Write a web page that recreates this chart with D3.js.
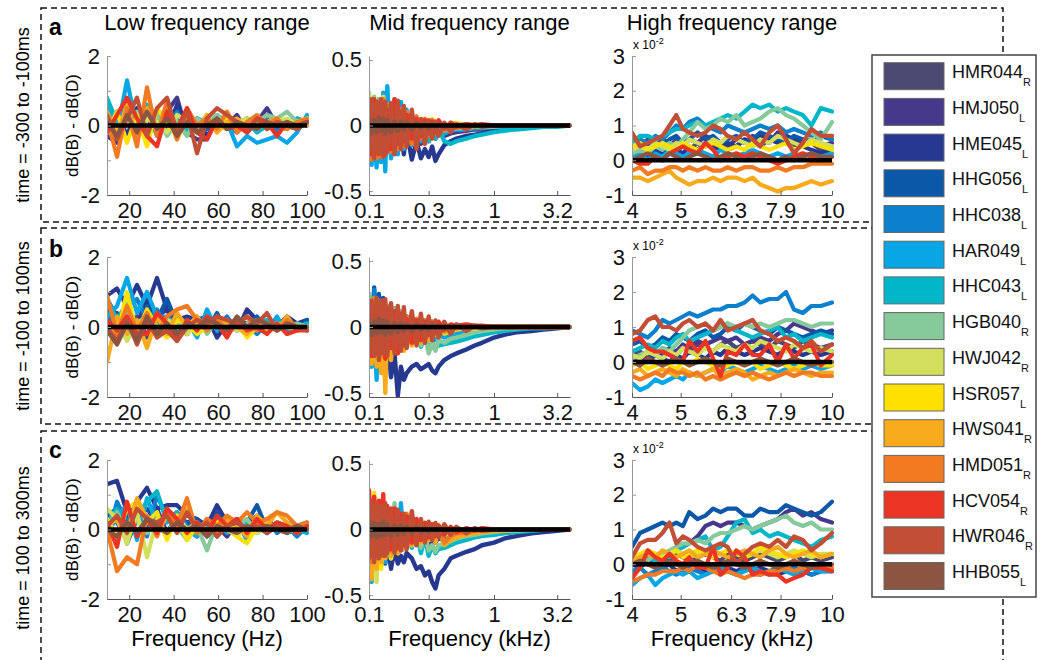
<!DOCTYPE html>
<html lang="en">
  <head>
    <meta charset="UTF-8" />
    <title>dB(B) - dB(D) by frequency range</title>
    <script src="https://cdnjs.cloudflare.com/ajax/libs/d3/7.8.5/d3.min.js"></script>
    <style>
      body { margin: 0; background: #fff; }
      svg { display: block; font-family: "Liberation Sans", Arial, Helvetica, sans-serif; }
    </style>
  </head>
  <body>
    <div id="chart"></div>
    <script>
      // Subjects in legend order, with ear side (shown as subscript)
      const subjects = ["HMR044", "HMJ050", "HME045", "HHG056", "HHC038", "HAR049", "HHC043", "HGB040",
        "HWJ042", "HSR057", "HWS041", "HMD051", "HCV054", "HWR046", "HHB055"];
      const sides = ["R", "L", "L", "L", "L", "L", "L", "R", "R", "L", "R", "R", "R", "R", "L"];
      const colors = ["#4b4a72", "#46398c", "#26388f", "#0b58a8", "#0c80cc", "#09a6e6", "#00b6c9", "#86c99b",
        "#d3df5c", "#ffe100", "#f8aa1d", "#f27b21", "#ec3424", "#c14e35", "#8b5542"];

      const rowTimes = ["time = -300 to -100ms", "time = -100 to 100ms", "time = 100 to 300ms"];
      const rowLetters = ["a", "b", "c"];

      // frequency grids
      const lowFreq = [10, 14.5, 19, 23.5, 28, 32.5, 37, 41.5, 46, 50.5, 55, 59.5, 64, 68.5, 73, 77.5, 82, 86.5, 91, 95.5, 100]; // Hz
      const midFreq = [0.10, 0.105, 0.11, 0.115, 0.12, 0.125, 0.13, 0.135, 0.14, 0.15, 0.16, 0.17, 0.18, 0.19, 0.20,
        0.22, 0.24, 0.26, 0.28, 0.30, 0.32, 0.34, 0.36, 0.40, 0.45, 0.5, 0.6, 0.7, 0.8, 1.0, 1.2, 1.5, 2.0, 2.5, 3.2, 4.0]; // kHz
      const highFreq = [4.0, 4.15, 4.3, 4.45, 4.6, 4.75, 4.9, 5.05, 5.2, 5.4, 5.6, 5.8, 6.0, 6.2, 6.45, 6.7, 6.95,
        7.2, 7.5, 7.8, 8.1, 8.4, 8.75, 9.1, 9.5, 10.0]; // kHz

      // tick values
      const lowTicks = [20, 40, 60, 80, 100];
      const midTicks = [0.1, 0.3, 1, 3.2];
      const highTicks = [4, 5, 6.3, 7.9, 10];

      // values, one string per subject (legend order)
      // low: tenths of dB
      const lowA = [
        "2 -3 4 -2 3 -1 2 -3 1 -1 2 0 1 -1 1 0 1 -1 1 0 1",
        "-3 -5 3 -2 5 -1 4 8 -2 -4 -4 2 0 3 -2 1 5 0 -1 2 1",
        "-2 4 -3 5 -1 3 -2 6 -1 2 -3 1 3 -1 2 -1 1 0 -1 1 0",
        "3 -2 4 -3 2 -1 3 -2 0 2 -1 1 -1 1 0 2 -1 1 0 -1 1",
        "4 -1 5 -2 3 2 -2 4 -1 1 2 -1 0 -2 1 -1 2 -2 1 0 2",
        "6 -2 13 -1 5 -3 3 0 -2 1 0 3 1 -6 -3 -5 -4 -3 -5 -2 3",
        "8 1 4 -2 6 2 -1 3 -2 2 1 0 2 -1 1 -2 0 1 -1 2 1",
        "1 -3 2 4 -1 3 -3 1 -3 2 0 3 1 -1 2 1 3 2 4 1 2",
        "3 -2 5 -4 2 1 -2 3 1 -2 2 0 -1 1 2 -1 1 1 2 0 1",
        "-2 4 -5 3 -6 5 1 -3 4 -2 3 -2 2 -1 1 2 0 1 -1 1 2",
        "4 -3 6 -4 5 -2 3 -4 2 -1 3 -2 1 2 -1 0 1 2 -1 1 0",
        "2 -9 5 -6 11 -3 7 -4 5 0 2 -1 4 -2 1 3 0 2 -1 1 2",
        "-2 3 8 2 -3 -6 4 -1 5 -2 -4 2 -1 0 -2 2 1 -3 1 -1 1",
        "3 -4 2 8 -3 5 8 -2 4 -8 2 5 3 1 -1 2 -1 1 0 -1 1",
        "1 -3 3 -2 4 -1 2 -3 1 -2 0 2 -1 1 0 -1 1 0 1 0 1"
      ];
      const lowB = [
        "2 4 -2 3 -3 2 -1 1 -2 2 0 1 -1 2 -1 1 0 1 -1 0 1",
        "4 2 6 1 8 3 5 -1 2 -2 1 -1 0 2 1 -1 1 0 -1 1 0",
        "9 11 6 12 6 14 5 2 3 2 3 -3 1 -1 5 2 -1 0 3 1 2",
        "8 3 5 -2 6 2 8 1 -2 3 -1 4 -2 1 0 3 -1 2 0 -1 2",
        "5 -2 6 8 2 5 -1 3 1 -1 2 0 3 -1 1 -2 1 2 -1 0 1",
        "3 6 14 4 10 3 3 0 2 -3 5 -1 2 0 -2 1 -1 3 -2 1 0",
        "8 2 7 -1 4 1 -2 3 0 2 -1 2 0 1 -1 1 2 -1 1 0 1",
        "2 -3 4 -1 3 -2 2 1 -1 3 -2 2 0 -1 1 2 -1 1 0 1 0",
        "-2 2 -4 1 3 -3 2 0 -2 1 -1 2 1 -1 0 2 -1 1 0 -1 0",
        "1 -3 10 -2 5 0 -3 2 1 -2 0 2 -1 1 -3 0 1 -1 2 -1 0",
        "-10 3 -2 2 -6 3 -2 4 0 3 -1 2 1 0 -2 1 0 -1 3 -1 0",
        "9 -2 6 -1 4 -2 3 5 6 2 -1 3 -2 1 3 -1 1 -1 2 0 -1",
        "2 -1 3 -2 -2 4 1 -4 2 -1 3 1 -3 2 -1 0 -2 1 -2 -1 -1",
        "0 -4 2 -5 2 -3 -1 -4 0 2 1 3 2 1 3 1 4 -1 1 0 -1",
        "-1 -5 1 -4 3 -2 1 -2 1 0 2 1 -1 3 0 2 1 -1 1 0 0"
      ];
      const lowC = [
        "3 -2 4 -1 3 2 -1 2 0 -2 1 3 -1 1 0 2 -1 1 0 1 0",
        "5 2 -3 4 1 6 -1 3 2 -1 3 1 -2 2 0 1 -1 2 1 0 1",
        "13 14 5 8 12 6 7 7 4 3 1 7 2 3 1 4 2 1 0 -1 1",
        "4 6 -4 3 6 2 -1 4 2 3 -2 5 1 -1 2 7 0 2 -1 1 2",
        "-3 8 2 6 -2 10 3 5 1 -1 2 -2 2 0 -1 1 3 -1 1 -2 1",
        "-2 4 7 -3 9 2 -2 5 0 -2 1 3 -1 2 -3 1 0 2 -1 0 -1",
        "2 6 -1 4 8 11 2 5 -1 2 0 3 1 -1 2 1 -1 2 1 0 1",
        "1 5 -2 3 -1 2 4 1 -3 1 -6 2 0 1 3 -1 1 0 2 1 0",
        "6 3 -4 5 -8 3 -2 4 0 2 -1 1 0 -2 1 -1 2 0 1 -1 1",
        "3 -2 6 8 2 5 -3 4 -3 1 -1 2 3 -2 -4 1 0 2 -1 1 1",
        "1 3 -1 9 3 -1 4 2 6 -1 2 -1 3 1 -2 4 1 5 2 -1 1",
        "0 -12 -8 -10 4 -2 6 1 9 -1 3 1 4 2 5 2 3 5 4 1 2",
        "2 -5 8 -2 3 -1 6 3 -1 2 -1 4 1 3 -1 3 0 2 1 -1 1",
        "1 4 -1 6 3 2 4 -1 5 0 2 -2 1 2 0 1 -1 1 0 1 0",
        "0 -2 2 -1 3 1 -1 2 0 1 -2 1 0 -1 1 0 1 0 -1 1 0"
      ];

      // mid: hundredths of dB
      const midA = [
        "10 -15 12 -18 8 -14 10 -12 6 -10 8 -9 5 -8 4 -6 3 -7 2 -5 1 -4 0 -3 -2 -1 -2 -1 -1 -1 0 0 0 0 0 0",
        "8 -20 14 -22 10 -18 12 -16 8 -14 6 -12 5 -10 2 -12 0 -14 -2 -12 -6 -10 -4 -8 -6 -5 -4 -3 -3 -2 -2 -1 -1 0 0 0",
        "5 -22 10 -25 6 -20 8 -22 4 -20 3 -18 0 -22 -4 -26 -12 -25 -18 -24 -16 -27 -22 -15 -12 -10 -8 -7 -6 -4 -3 -2 -1 -1 0 0",
        "12 -18 15 -20 10 -16 14 -18 8 -15 10 -12 6 -10 5 -8 3 -10 2 -8 0 -6 -2 -5 -4 -3 -3 -2 -2 -1 -1 -1 0 0 0 0",
        "15 -25 20 -28 18 -22 16 -20 12 -18 14 -15 8 -12 6 -10 4 -8 3 -6 2 -5 1 -4 -3 -2 -2 -2 -1 -1 -1 0 0 0 0 0",
        "22 -30 18 -32 20 -28 25 -35 30 -25 20 -22 18 -18 12 -15 6 -12 4 -10 3 -8 2 -6 -4 -3 -3 -2 -2 -1 -1 -1 0 0 0 0",
        "18 -20 15 -22 12 -18 14 -16 10 -14 12 -10 8 -12 6 -8 5 -10 3 -12 2 -10 -2 -12 -14 -12 -10 -8 -7 -5 -4 -3 -2 -1 -1 0",
        "25 -15 22 -18 20 -12 18 -14 15 -10 16 -8 12 -10 8 -6 5 -8 4 -6 3 -5 2 -4 -3 -2 -2 -1 -1 -1 0 0 0 0 0 0",
        "24 -18 20 -15 18 -20 22 -12 16 -14 14 -10 12 -8 10 -6 6 -5 4 -4 3 -3 2 -2 -2 -1 -1 -1 0 0 0 0 0 0 0 0",
        "15 -22 18 -20 14 -18 16 -15 12 -16 10 -12 8 -10 6 -8 5 -6 4 -5 5 -3 3 -2 1 2 0 1 0 0 0 0 0 0 0 0",
        "18 -25 20 -24 16 -22 18 -20 14 -18 12 -15 10 -12 8 -10 6 -8 5 -6 4 -5 3 -3 2 1 1 0 0 0 0 0 0 0 0 0",
        "20 -26 18 -25 19 -24 20 -22 16 -20 15 -18 12 -16 10 -14 7 -10 5 -8 4 -6 3 -4 2 -2 1 -1 0 0 0 0 0 0 0 0",
        "15 -22 20 -18 14 -20 16 -22 12 -18 20 -14 10 -12 8 -10 5 -8 4 -6 3 -5 4 -2 2 -1 1 0 1 0 0 0 0 0 0 0",
        "-20 20 -25 18 -22 20 -24 18 -20 17 -22 19 -18 15 -16 12 -18 5 -14 4 -10 3 -8 2 -5 1 -3 1 -1 0 0 0 0 0 0 0",
        "5 -6 4 -5 6 -4 5 -6 4 -5 3 -4 3 -3 2 -3 2 -2 1 -2 1 -1 1 -1 0 0 0 0 0 0 0 0 0 0 0 0"
      ];
      const midB = [
        "12 -18 10 -20 8 -15 10 -14 6 -12 8 -10 5 -8 4 -7 3 -6 2 -5 1 -4 0 -3 -3 -2 -2 -1 -1 -1 0 0 0 0 0 0",
        "10 -22 14 -25 12 -20 10 -18 8 -16 6 -14 4 -12 2 -10 0 -12 -4 -10 -6 -8 -5 -6 -5 -4 -3 -3 -2 -2 -1 -1 0 0 0 0",
        "5 -20 8 -24 6 -28 4 -30 -5 -38 -20 -52 -30 -40 -35 -30 -28 -32 -30 -28 -33 -35 -30 -25 -22 -20 -17 -14 -12 -8 -6 -4 -3 -2 -1 0",
        "5 -25 30 -22 25 -20 22 -18 16 -15 14 -12 10 -10 8 -8 6 -6 4 -5 3 -4 2 -3 -2 -2 -1 -1 -1 0 0 0 0 0 0 0",
        "25 -30 28 -26 20 -24 18 -20 15 -18 12 -15 10 -12 8 -10 6 -8 5 -6 4 -5 3 -4 -3 -2 -2 -1 -1 -1 0 0 0 0 0 0",
        "18 -30 15 -40 12 -25 15 -22 10 -20 8 -18 6 -15 5 -12 4 -10 2 -8 0 -10 -6 -8 -6 -5 -4 -3 -2 -2 -1 -1 0 0 0 0",
        "15 -20 12 -22 10 -18 12 -16 8 -14 6 -12 4 -10 2 -12 -2 -15 -8 -16 -12 -15 -14 -13 -12 -11 -9 -7 -6 -4 -3 -2 -1 -1 0 0",
        "25 -15 22 -18 20 -14 18 -12 16 -10 14 -10 12 -8 8 -10 4 -14 -6 -20 -12 -18 -10 -12 -9 -8 -6 -4 -3 -2 -1 -1 0 0 0 0",
        "20 -18 18 -20 16 -15 14 -14 12 -12 10 -10 8 -9 6 -8 5 -7 4 -5 3 -4 2 -3 -2 -1 -1 -1 0 0 0 0 0 0 0 0",
        "15 -25 12 -22 10 -28 8 -20 12 -18 6 -16 8 -14 4 -12 6 -10 3 -8 4 -6 2 -5 -3 -2 -1 -1 0 0 0 0 0 0 0 0",
        "18 -28 15 -30 12 -35 10 -50 8 -25 12 -20 6 -18 5 -14 4 -12 3 -10 2 -6 2 -4 -2 -1 0 0 0 0 0 0 0 0 0 0",
        "20 -20 22 -18 18 -22 20 -15 15 -16 12 -14 10 -12 8 -10 6 -8 5 -6 4 -5 3 -3 1 -1 0 0 0 0 0 0 0 0 0 0",
        "18 -22 15 -20 16 -18 20 -24 14 -16 12 -20 10 -14 6 -12 5 -10 4 -6 3 -4 4 -2 2 1 2 1 1 0 0 0 0 0 0 0",
        "-20 20 -22 22 -25 20 -20 21 -22 18 -20 16 -18 15 -16 12 -14 10 -12 8 -10 5 -8 4 -5 2 -3 1 -1 0 0 0 0 0 0 0",
        "5 -6 4 -5 6 -4 5 -6 4 -5 3 -4 3 -3 2 -3 2 -2 1 -2 1 -1 1 -1 0 0 0 0 0 0 0 0 0 0 0 0"
      ];
      const midC = [
        "10 -15 12 -18 8 -16 10 -14 6 -12 8 -10 5 -8 4 -6 3 -8 2 -6 0 -5 -2 -4 -3 -3 -2 -2 -1 -1 0 0 0 0 0 0",
        "12 -20 10 -22 8 -20 10 -18 6 -16 5 -14 3 -12 2 -10 0 -14 -4 -12 -8 -10 -6 -8 -6 -5 -4 -3 -3 -2 -1 -1 0 0 0 0",
        "8 -20 6 -24 5 -22 4 -26 -8 -30 -15 -26 -20 -25 -18 -22 -30 -28 -35 -32 -40 -45 -35 -30 -22 -20 -17 -15 -12 -10 -7 -5 -3 -2 -1 0",
        "15 -22 18 -20 15 -18 12 -16 10 -14 8 -12 6 -10 5 -8 4 -10 2 -8 0 -8 -4 -10 -9 -8 -7 -5 -4 -3 -2 -1 -1 0 0 0",
        "20 -30 18 -26 16 -24 15 -22 12 -20 10 -18 8 -15 6 -12 5 -10 3 -8 2 -6 1 -6 -5 -4 -3 -2 -2 -1 -1 0 0 0 0 0",
        "18 -40 15 -32 12 -28 14 -25 10 -22 8 -18 20 -15 6 -12 4 -10 3 -8 2 -6 1 -4 -3 -2 -2 -1 -1 -1 0 0 0 0 0 0",
        "15 -20 12 -22 10 -20 12 -18 8 -16 6 -15 4 -12 3 -14 -2 -18 -6 -20 -12 -18 -15 -14 -12 -10 -8 -6 -5 -4 -3 -2 -1 0 0 0",
        "20 -18 18 -20 15 -16 16 -14 12 -12 20 -10 10 -10 8 -10 6 -14 -4 -16 -12 -17 -12 -11 -9 -7 -5 -4 -3 -2 -1 -1 0 0 0 0",
        "25 -30 20 -40 18 -25 15 -20 12 -22 10 -18 8 -15 6 -12 4 -10 3 -8 2 -6 1 -4 -3 -2 -1 -1 0 0 0 0 0 0 0 0",
        "22 -25 28 -22 20 -30 18 -20 15 -22 12 -18 10 -14 8 -12 6 -10 5 -8 4 -5 3 -3 -2 -1 -1 0 0 0 0 0 0 0 0 0",
        "20 -38 18 -30 15 -25 16 -22 12 -20 10 -18 8 -15 10 -12 6 -10 5 -8 3 -10 2 -12 -8 -6 -4 -3 -2 -1 -1 0 0 0 0 0",
        "22 -25 20 -22 18 -20 22 -18 15 -16 12 -15 10 -12 12 -10 6 -8 5 -6 4 -5 3 -10 -5 -3 -2 -1 -1 0 0 0 0 0 0 0",
        "30 -20 25 -18 22 -16 27 -20 18 -15 16 -14 12 -12 10 -10 8 -8 5 -6 4 -5 3 -4 2 -2 1 -1 1 0 0 0 0 0 0 0",
        "-22 22 -25 20 -22 18 -20 20 -18 16 -18 15 -16 12 -15 14 -12 8 -10 6 -8 5 -6 4 -4 2 -3 1 -1 0 0 0 0 0 0 0",
        "6 -5 5 -6 4 -5 6 -4 4 -5 3 -4 3 -3 2 -3 2 -2 1 -2 1 -1 1 -1 0 0 0 0 0 0 0 0 0 0 0 0"
      ];

      // high: tenths of 10^-2 dB
      const highA = [
        "3 4 2 5 3 4 6 4 3 5 4 6 5 3 4 6 5 4 6 7 5 4 6 5 3 4",
        "4 3 5 4 6 5 3 4 6 5 7 6 5 4 6 5 7 6 5 8 7 6 5 6 4 5",
        "2 3 1 3 2 4 3 2 4 3 5 4 3 5 4 6 5 7 6 5 7 6 4 3 2 3",
        "5 4 6 5 4 6 7 5 6 8 6 7 5 6 7 5 6 8 7 6 5 7 6 5 7 6",
        "5 6 5 7 6 8 10 9 11 12 10 9 8 10 9 8 9 10 9 10 8 9 8 7 8 6",
        "1 2 0 2 1 3 2 1 2 3 2 1 3 2 1 2 3 2 1 2 1 2 1 2 1 2",
        "5 7 7 6 7 8 9 9 10 11 10 11 12 13 12 14 16 15 16 14 15 14 13 10 15 14",
        "2 3 2 4 3 5 4 6 8 11 9 10 12 11 13 10 11 12 14 15 13 12 10 8 6 11",
        "3 4 3 5 4 3 5 4 6 5 4 6 5 7 6 5 4 6 5 7 6 5 4 6 5 4",
        "4 5 3 4 5 4 3 5 4 3 4 5 4 3 4 3 5 4 3 4 5 3 4 5 4 3",
        "-5 -5 -6 -5 -4 -3 -5 -6 -7 -6 -6 -5 -6 -5 -5 -6 -5 -7 -8 -9 -8 -8 -7 -6 -7 -6",
        "-3 -2 -4 -3 -3 -2 -2 -3 -2 -3 -2 -3 -3 -2 -3 -2 -2 -3 -3 -2 -3 -2 -2 -1 -1 -1",
        "0 -1 -1 1 0 2 3 4 3 2 5 3 0 1 2 1 2 1 0 -1 0 1 2 1 0 1",
        "8 4 5 6 7 10 13 9 8 7 8 10 9 7 6 8 6 4 8 10 6 2 5 9 7 7",
        "0 1 2 1 0 2 1 0 1 2 1 0 1 2 1 0 1 2 1 0 1 0 1 2 1 1"
      ];
      const highB = [
        "2 3 1 2 4 3 2 4 3 5 4 3 5 6 4 5 6 5 4 6 5 4 6 5 4 5",
        "1 2 1 3 2 4 3 5 4 6 5 6 7 6 7 5 6 7 6 8 9 11 10 9 8 9",
        "0 1 0 2 1 0 2 1 3 2 1 3 2 4 3 2 3 4 3 2 4 3 2 3 2 3",
        "5 6 4 5 7 6 8 7 6 8 9 7 8 10 9 11 10 9 8 10 9 8 7 8 9 8",
        "9 8 7 9 12 11 12 13 14 13 14 15 15 16 16 17 19 17 18 18 20 15 14 16 16 17",
        "-6 -8 -7 -5 -6 -5 -4 -5 -3 -4 -3 -2 -3 -1 -2 -3 -2 -1 -2 -3 -2 -1 -2 -1 -2 -1",
        "3 4 5 4 6 5 7 8 6 7 8 9 10 11 9 8 7 8 9 10 7 8 6 7 8 7",
        "1 2 3 2 4 3 5 7 9 10 11 9 10 11 10 11 10 11 10 11 12 12 11 10 11 11",
        "2 1 3 2 1 3 2 4 3 2 4 3 5 4 3 5 4 6 5 4 3 5 4 3 4 3",
        "-1 0 -2 -1 0 -1 -2 0 -1 1 0 -1 -2 -1 0 -1 0 -2 -1 0 -1 -2 -1 0 -1 -1",
        "-3 -2 -4 -3 -2 -3 -4 -2 -3 -4 -3 -2 -4 -3 -2 -3 -5 -4 -3 -4 -3 -2 -3 -4 -3 -3",
        "-4 -5 -4 -3 -4 -2 -3 -3 -4 -3 -5 -4 -5 -4 -3 -4 -3 -4 -5 -4 -3 -4 -3 -3 -4 -4",
        "6 7 4 3 3 2 1 0 6 3 6 1 -4 3 2 5 2 2 5 0 5 1 4 5 -1 2",
        "8 9 12 13 10 10 9 11 12 10 11 9 12 9 10 11 12 9 8 6 7 6 4 6 3 5",
        "0 -1 1 0 -1 0 1 0 -1 0 1 0 -1 1 0 -1 0 1 0 -1 0 1 0 -1 0 0"
      ];
      const highC = [
        "1 2 0 1 2 1 3 2 1 2 3 2 1 3 2 1 2 3 2 1 2 3 1 2 1 2",
        "2 1 3 2 3 2 4 5 6 8 11 12 11 12 12 11 10 11 12 13 15 16 14 15 13 12",
        "0 -1 1 0 -1 0 -2 -1 0 -1 -2 -1 0 -1 -2 -1 -2 -1 -2 -3 -2 -1 -2 -3 -2 -2",
        "5 9 10 11 12 11 12 11 15 13 14 16 15 16 16 14 14 16 15 15 17 16 15 14 15 18",
        "-2 -1 -3 -2 -1 -2 -3 -2 -1 -2 -3 -2 -1 -2 -3 -1 -2 -3 -2 -1 -2 -1 -2 -3 -2 -2",
        "-6 -4 -3 -6 -4 -3 -2 -3 -2 -4 -3 -2 -1 -2 -3 -2 -1 -2 -3 -1 -2 -3 -2 -1 -2 -2",
        "0 1 2 1 3 2 4 5 6 7 8 4 5 8 12 13 9 10 8 9 8 7 6 5 7 8",
        "1 2 1 3 3 4 5 6 6 7 6 8 9 9 10 11 10 11 12 13 14 12 11 12 10 10",
        "3 2 4 3 2 3 4 3 2 3 4 2 3 4 3 2 3 4 3 2 3 4 3 2 3 3",
        "2 3 4 3 2 3 4 2 3 4 3 2 3 4 3 2 3 5 4 3 2 3 4 3 2 3",
        "1 2 3 2 4 3 2 3 4 2 3 4 3 2 3 4 3 2 4 5 3 2 3 4 2 3",
        "-5 -4 -3 -3 -2 -2 -2 -1 -2 0 -1 -2 -3 -2 -3 -4 -3 -3 -2 -2 -1 -2 -1 -1 -1 -1",
        "-4 -1 4 2 1 3 1 0 2 -1 -1 5 -3 -1 4 2 -3 -2 -3 -3 -5 -4 -3 -1 -1 -2",
        "2 6 7 7 9 12 6 8 7 5 4 5 6 5 0 3 5 6 5 7 5 8 7 4 6 9",
        "0 1 0 -1 0 1 0 -1 0 1 0 -1 0 1 0 -1 0 1 0 -1 0 1 0 -1 0 0"
      ];

      const parse = (rows, div) => rows.map((s) => s.trim().split(/\s+/).map((v) => +v / div));

      // column setup
      const columns = [
        {
          title: "Low frequency range", xLabel: "Frequency (Hz)", freq: lowFreq,
          data: [parse(lowA, 10), parse(lowB, 10), parse(lowC, 10)],
          x: d3.scaleLinear().domain([10, 100]), xTicks: lowTicks, lineWidth: 4.2,
          yDomain: [-2, 2], yTicks: [-2, -1, 0, 1, 2], yLabeled: [-2, 0, 2]
        },
        {
          title: "Mid frequency range", xLabel: "Frequency (kHz)", freq: midFreq,
          data: [parse(midA, 100), parse(midB, 100), parse(midC, 100)],
          x: d3.scaleLog().domain([0.1, 4.05]), xTicks: midTicks, lineWidth: 4.4,
          yDomain: [-0.53, 0.53], yTicks: [-0.5, 0, 0.5], yLabeled: [-0.5, 0, 0.5]
        },
        {
          title: "High frequency range", xLabel: "Frequency (kHz)", freq: highFreq,
          data: [parse(highA, 10), parse(highB, 10), parse(highC, 10)],
          x: d3.scaleLog().domain([4, 10]), xTicks: highTicks, lineWidth: 4.2,
          yDomain: [-1, 3], yTicks: [-1, 0, 1, 2, 3], yLabeled: [-1, 0, 1, 2, 3], exponent: true
        }
      ];

      // layout (pixels)
      const width = 1040;
      const height = 660;
      const colX = [[107, 307], [369, 570], [632, 832]];
      const rowY = [[56, 195], [257, 397], [460, 599]];
      const boxes = [[8, 222], [228, 424], [431, 675]];
      const rowLabelY = [115, 326, 548];

      const svg = d3.select("#chart").append("svg").attr("width", width).attr("height", height);

      // dashed row frames
      boxes.forEach(([y0, y1]) => {
        svg.append("rect")
          .attr("x", 41).attr("y", y0)
          .attr("width", 1003 - 41).attr("height", y1 - y0)
          .attr("fill", "none").attr("stroke", "#111")
          .attr("stroke-width", 1.5).attr("stroke-dasharray", "6 4");
      });

      rowTimes.forEach((t, r) => {
        svg.append("text")
          .attr("transform", `translate(23,${rowLabelY[r]}) rotate(-90)`)
          .attr("text-anchor", "middle").attr("dominant-baseline", "central")
          .attr("font-size", 18).text(t);
        svg.append("text")
          .attr("x", 49).attr("y", rowY[r][0] - [21, 0, 2][r])
          .attr("font-size", 23).attr("font-weight", "bold").text(rowLetters[r]);
      });

      const line = (x, y, freq) => d3.line().x((d, i) => x(freq[i])).y((d) => y(d));

      columns.forEach((col, c) => {
        rowY.forEach((ry, r) => {
          const x = col.x.copy().range(colX[c]);
          const y = d3.scaleLinear().domain(col.yDomain).range([ry[1], ry[0]]);
          const g = svg.append("g");
          const clipId = `clip-${r}-${c}`;
          g.append("clipPath").attr("id", clipId).append("rect")
            .attr("x", colX[c][0]).attr("y", ry[0] - 3)
            .attr("width", colX[c][1] - colX[c][0] + 2).attr("height", ry[1] - ry[0] + 6);

          const plot = g.append("g").attr("clip-path", `url(#${clipId})`);
          plot.selectAll("path.series")
            .data(col.data[r])
            .join("path")
            .attr("class", "series")
            .attr("fill", "none")
            .attr("stroke", (d, i) => colors[i])
            .attr("stroke-width", col.lineWidth)
            .attr("stroke-linejoin", "round")
            .attr("stroke-linecap", "round")
            .attr("d", line(x, y, col.freq));

          // zero reference
          plot.append("line")
            .attr("x1", colX[c][0]).attr("x2", colX[c][1])
            .attr("y1", y(0)).attr("y2", y(0))
            .attr("stroke", "#000").attr("stroke-width", 4.6);

          // axes
          const yAxis = g.append("g").attr("transform", `translate(${colX[c][0]},0)`)
            .call(d3.axisLeft(y).tickValues(col.yTicks).tickSize(-4).tickSizeOuter(0).tickPadding(7)
              .tickFormat((v) => (col.yLabeled.includes(v) ? String(v) : "")));
          const xAxis = g.append("g").attr("transform", `translate(0,${ry[1]})`)
            .call(d3.axisBottom(x).tickValues(col.xTicks).tickSize(-4).tickSizeOuter(0).tickPadding(7)
              .tickFormat((v) => String(v)));
          [yAxis, xAxis].forEach((a) => {
            a.attr("font-family", null).attr("font-size", null);
            a.selectAll("text").attr("font-size", 22).attr("fill", "#111");
          });
          yAxis.select(".domain").attr("stroke", "#999");
          yAxis.selectAll(".tick line").attr("stroke", "#999");
          xAxis.select(".domain").attr("stroke", "#555");
          xAxis.selectAll(".tick line").attr("stroke", "#555");

          if (col.exponent) {
            const t = g.append("text").attr("x", colX[c][0] + 1).attr("y", ry[0] - 7).attr("font-size", 12);
            t.append("tspan").text("x 10");
            t.append("tspan").attr("dy", -5).attr("font-size", 9).text("-2");
          }

          if (c === 0) {
            g.append("text")
              .attr("transform", `translate(72,${(ry[0] + ry[1]) / 2}) rotate(-90)`)
              .attr("text-anchor", "middle").attr("dominant-baseline", "central")
              .attr("font-size", 17).text("dB(B) - dB(D)");
          }
          if (r === 0) {
            g.append("text")
              .attr("x", (colX[c][0] + colX[c][1]) / 2).attr("y", 30)
              .attr("text-anchor", "middle").attr("font-size", 22).text(col.title);
          }
          if (r === 2) {
            g.append("text")
              .attr("x", (colX[c][0] + colX[c][1]) / 2).attr("y", 646)
              .attr("text-anchor", "middle").attr("font-size", 22).text(col.xLabel);
          }
        });
      });

      // legend
      const legend = svg.append("g");
      legend.append("rect")
        .attr("x", 872).attr("y", 55).attr("width", 164).attr("height", 542)
        .attr("fill", "#fff").attr("stroke", "#444").attr("stroke-width", 1.5);
      const item = legend.selectAll("g.item")
        .data(subjects)
        .join("g")
        .attr("class", "item")
        .attr("transform", (d, i) => `translate(884,${62.7 + 35.7 * i})`);
      item.append("rect")
        .attr("width", 60).attr("height", 27)
        .attr("fill", (d, i) => colors[i])
        .attr("stroke", "#666").attr("stroke-width", 1);
      const label = item.append("text").attr("x", 68).attr("y", 15.5).attr("font-size", 18).attr("fill", "#111");
      label.append("tspan").text((d) => d);
      label.append("tspan").attr("dy", 8).attr("font-size", 11).text((d, i) => sides[i]);
    </script>
  </body>
</html>
